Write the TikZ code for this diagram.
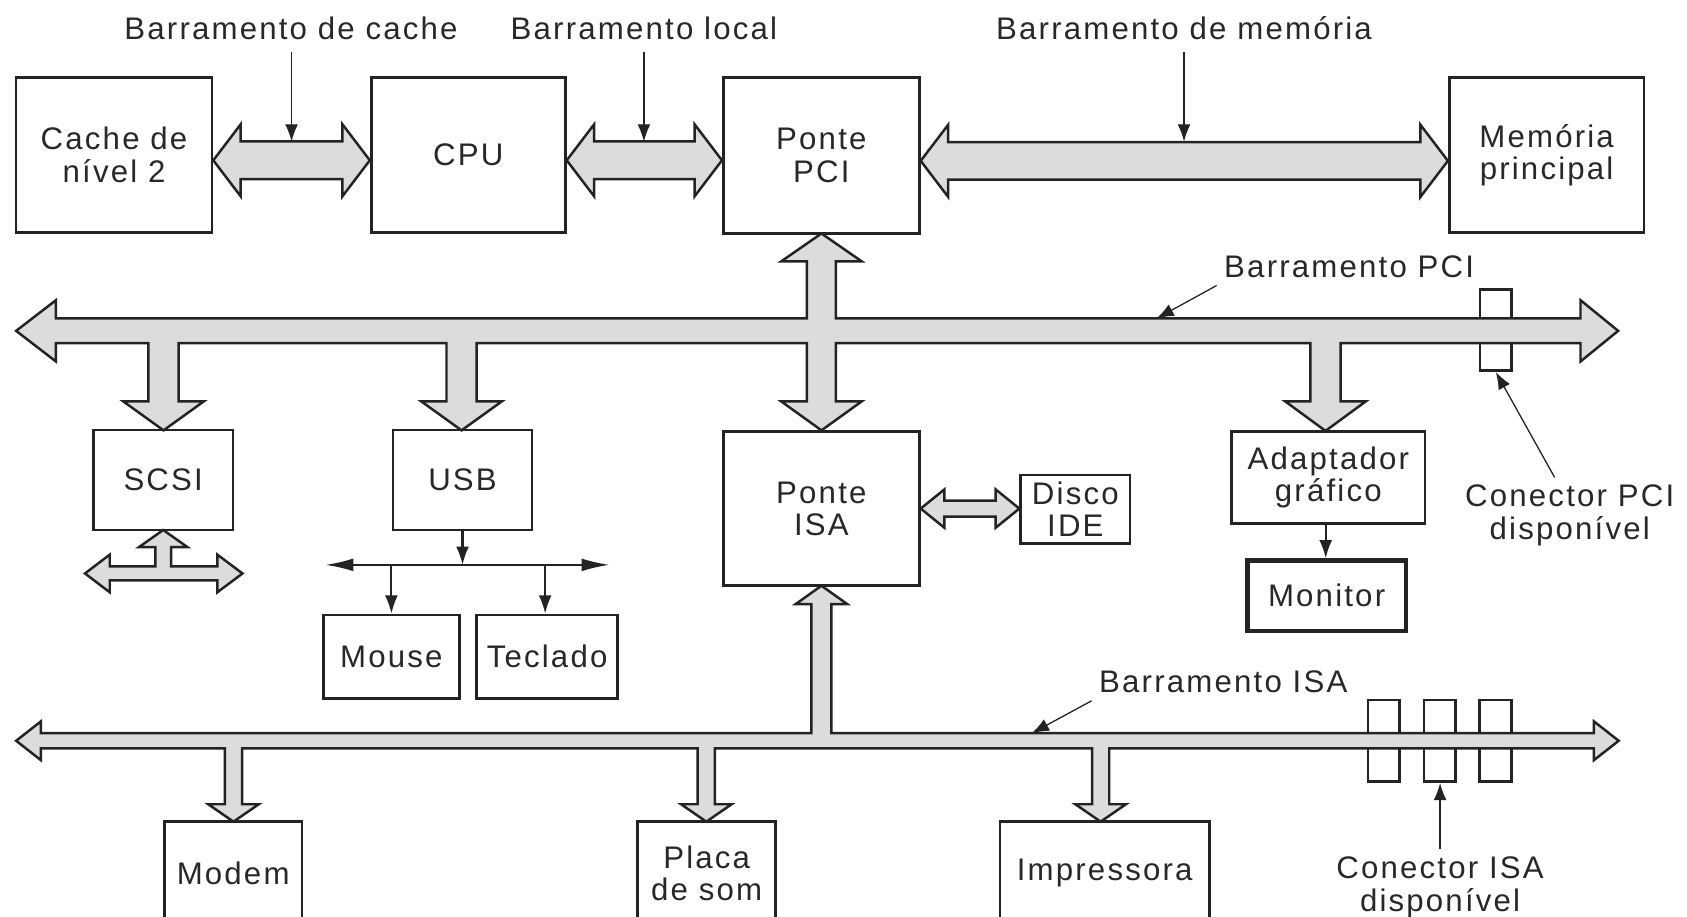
\documentclass[tikz,border=0pt]{standalone}
\usepackage{fontspec}
\setmainfont{Liberation Sans}
\newfontfamily\lblfont[LetterSpace=7]{Liberation Sans}
\usetikzlibrary{arrows.meta,calc}
\definecolor{busfill}{RGB}{219,220,222}
\definecolor{ink}{RGB}{35,35,35}
\definecolor{txt}{RGB}{40,40,40}
\newcommand{\fatH}[6]{%
  \draw[bus] let \p1=(#1.east), \p2=(#2.west) in
  (\x1,\y1-#3) -- (\x1+#6,\y1-#3+#5) -- (\x1+#6,\y1-#3+#4) -- (\x2-#6,\y1-#3+#4)
  -- (\x2-#6,\y1-#3+#5) -- (\x2,\y1-#3) -- (\x2-#6,\y1-#3-#5) -- (\x2-#6,\y1-#3-#4)
  -- (\x1+#6,\y1-#3-#4) -- (\x1+#6,\y1-#3-#5) -- cycle;}
\begin{document}
\begin{tikzpicture}[x=0.5pt,y=-0.5pt,
  lbl/.style={font=\lblfont\fontsize{14.5}{15}\selectfont, text=txt, align=center},
  box/.style={draw=ink, line width=1.25pt, fill=white, inner sep=0pt, lbl},
  conbox/.style={draw=ink, line width=1.25pt, fill=white, inner sep=0pt, minimum width=14.7pt, minimum height=38pt},
  bus/.style={draw=ink, line width=1.15pt, fill=busfill, line join=miter},
  ptr/.style={draw=ink, line width=0.6pt, -{Latex[length=8pt,width=6pt]}},
  thinarr/.style={draw=ink, line width=1pt, -{Latex[length=8.5pt,width=6pt]}},
  thindbl/.style={draw=ink, line width=1pt, {Latex[length=13pt,width=6pt]}-{Latex[length=13pt,width=6pt]}},
]
\useasboundingbox (0,0) rectangle (1568,852);
\clip (0,0) rectangle (1568,852);

% boxes
\node[box, minimum width=91pt, minimum height=72pt] (cache) at (106,144) {Cache de\\nível 2};
\node[box, minimum width=90.25pt, minimum height=72pt] (cpu) at (435.25,144) {CPU};
\node[box, minimum width=91.1pt, minimum height=72.5pt] (pcib) at (763.4,144.5) {Ponte\\PCI};
\node[box, minimum width=90.5pt, minimum height=72pt] (mem) at (1437.5,144) {Memória\\principal};
\node[box, minimum width=65pt, minimum height=46.45pt] (scsi) at (151.7,446.15) {SCSI};
\node[box, minimum width=64.6pt, minimum height=46.45pt] (usb) at (429.9,446.15) {USB};
\node[box, minimum width=91.1pt, minimum height=71.7pt] (isab) at (763.4,472.7) {Ponte\\ISA};
\node[box, minimum width=50.8pt, minimum height=31.75pt] (disco) at (999.5,473.25) {Disco\\IDE};
\node[box, minimum width=89.9pt, minimum height=42.85pt] (adapt) at (1234.6,443.85) {Adaptador\\gráfico};
\node[box, line width=2pt, minimum width=73.5pt, minimum height=32.75pt] (monitor) at (1233,553.75) {Monitor};
\node[box, minimum width=63.2pt, minimum height=38.7pt] (mouse) at (363.8,610.3) {Mouse};
\node[box, minimum width=65.5pt, minimum height=38.7pt] (teclado) at (508.5,610.3) {Teclado};
\node[box, minimum width=64pt, minimum height=48.15pt] (modem) at (216.7,811.85) {Modem};
\node[box, minimum width=64pt, minimum height=48.15pt] (placa) at (656.8,811.85) {Placa\\de som};
\node[box, minimum width=97.25pt, minimum height=48.15pt] (impr) at (1026.75,811.85) {Impressora};

% connector slots
\node[conbox, minimum height=37.75pt] (conpci) at (1390.3,306.75) {};
\node[conbox, minimum height=37.95pt] (conisa1) at (1286.15,688.55) {};
\node[conbox, minimum height=37.95pt] (conisa2) at (1338.15,688.55) {};
\node[conbox, minimum height=37.95pt] (conisa3) at (1390.1,688.55) {};

% wide bus arrows between top boxes
\fatH{cache}{cpu}{2.5pt}{8.75pt}{16.75pt}{12.75pt}
\fatH{cpu}{pcib}{2.5pt}{8.75pt}{16.75pt}{12.75pt}
\fatH{pcib}{mem}{2.5pt}{8.75pt}{16.75pt}{12.75pt}
\fatH{isab}{disco}{0pt}{3.75pt}{8.9pt}{11pt}

% PCI bus
\draw[bus] (15,307.5) -- (52,279) -- (52,296) -- (750,296) -- (750,243) -- (726,243) -- (763.5,217)
  -- (801,243) -- (777,243) -- (777,296) -- (1469,296) -- (1469,279) -- (1504,307.5) -- (1469,336)
  -- (1469,319) -- (1246,319) -- (1246,373) -- (1269.5,373) -- (1232,400.5) -- (1194.5,373) -- (1218,373)
  -- (1218,319) -- (777,319) -- (777,373) -- (801,373) -- (763.5,400) -- (726,373) -- (750,373)
  -- (750,319) -- (443,319) -- (443,373) -- (466.5,373) -- (429,400) -- (391.5,373) -- (415,373)
  -- (415,319) -- (166,319) -- (166,373) -- (189.5,373) -- (152,400) -- (114.5,373) -- (138,373)
  -- (138,319) -- (52,319) -- (52,336) -- cycle;

% ISA bus
\draw[bus] (15,688.5) -- (38,670.5) -- (38,681.5) -- (754.2,681.5) -- (754.2,561.5) -- (739.5,561.5)
  -- (763.5,544.4) -- (787.5,561.5) -- (772.8,561.5) -- (772.8,681.5) -- (1481.5,681.5) -- (1481.5,670.5)
  -- (1504.5,688.5) -- (1481.5,706.5) -- (1481.5,695.5) -- (1031,695.5) -- (1031,747.5) -- (1046.5,747.5)
  -- (1023,763.7) -- (999.5,747.5) -- (1015,747.5) -- (1015,695.5) -- (664.5,695.5) -- (664.5,747.5)
  -- (680,747.5) -- (656.5,763.7) -- (633,747.5) -- (648.5,747.5) -- (648.5,695.5) -- (225,695.5)
  -- (225,747.5) -- (240.5,747.5) -- (217,763.7) -- (193.5,747.5) -- (209,747.5) -- (209,695.5)
  -- (38,695.5) -- (38,706.5) -- cycle;

% SCSI bus
\draw[bus] (151.7,492.6) -- (174.2,508.5) -- (159,508.5) -- (159,526.5) -- (202,526.5) -- (202,515.5)
  -- (225.4,533) -- (202,550.5) -- (202,539.5) -- (102,539.5) -- (102,550.5) -- (79,533) -- (102,515.5)
  -- (102,526.5) -- (144.5,526.5) -- (144.5,508.5) -- (129.2,508.5) -- cycle;

% USB
\coordinate (hub) at (429.9,525);
\coordinate (hl) at (302.5,525);
\coordinate (hr) at (566.5,525);
\draw[thinarr] (usb.south) -- (usb.south |- hub);
\draw[thindbl] (hl) -- (hr);
\draw[thinarr] (mouse.north |- hub) -- (mouse.north);
\draw[thinarr] ([xshift=-0.9pt]teclado.north |- hub) -- ([xshift=-0.9pt]teclado.north);

% graphics
\draw[thinarr] ([xshift=-1.2pt]adapt.south) -- ([xshift=-1.2pt]adapt.south |- monitor.north);

% labels and pointers
\node[lbl, anchor=base] (lcache) at (270.5,37) {Barramento de cache};
\node[lbl, anchor=base] (llocal) at (598.5,37) {Barramento local};
\node[lbl, anchor=base] (lmem) at (1100.5,37) {Barramento de memória};
\coordinate (tcache) at (271,131.5);
\coordinate (tlocal) at (598.5,131.5);
\coordinate (tmem) at (1100.5,131.5);
\draw[ptr, shorten <=2pt] (tcache |- lcache.south) -- (tcache);
\draw[ptr, shorten <=2pt] (tlocal |- llocal.south) -- (tlocal);
\draw[ptr, shorten <=2pt] (tmem |- lmem.south) -- (tmem);

\node[lbl, anchor=base] (lpci) at (1254,258) {Barramento PCI};
\coordinate (tpci) at (1075,296);
\draw[ptr] (lpci.south west) -- (tpci);

\node[lbl, anchor=base] (lisa) at (1137,644) {Barramento ISA};
\coordinate (tisa) at (959,681.5);
\draw[ptr] (lisa.south west) -- (tisa);

\node[lbl] (lcpci) at (1459,479) {Conector PCI\\disponível};
\draw[ptr] ([xshift=-7pt]lcpci.north) -- (conpci.south);

\node[lbl] (lcisa) at (1338.5,824.75) {Conector ISA\\disponível};
\draw[ptr] (lcisa.north) -- (lcisa.north |- conisa2.south);
\end{tikzpicture}
\end{document}
